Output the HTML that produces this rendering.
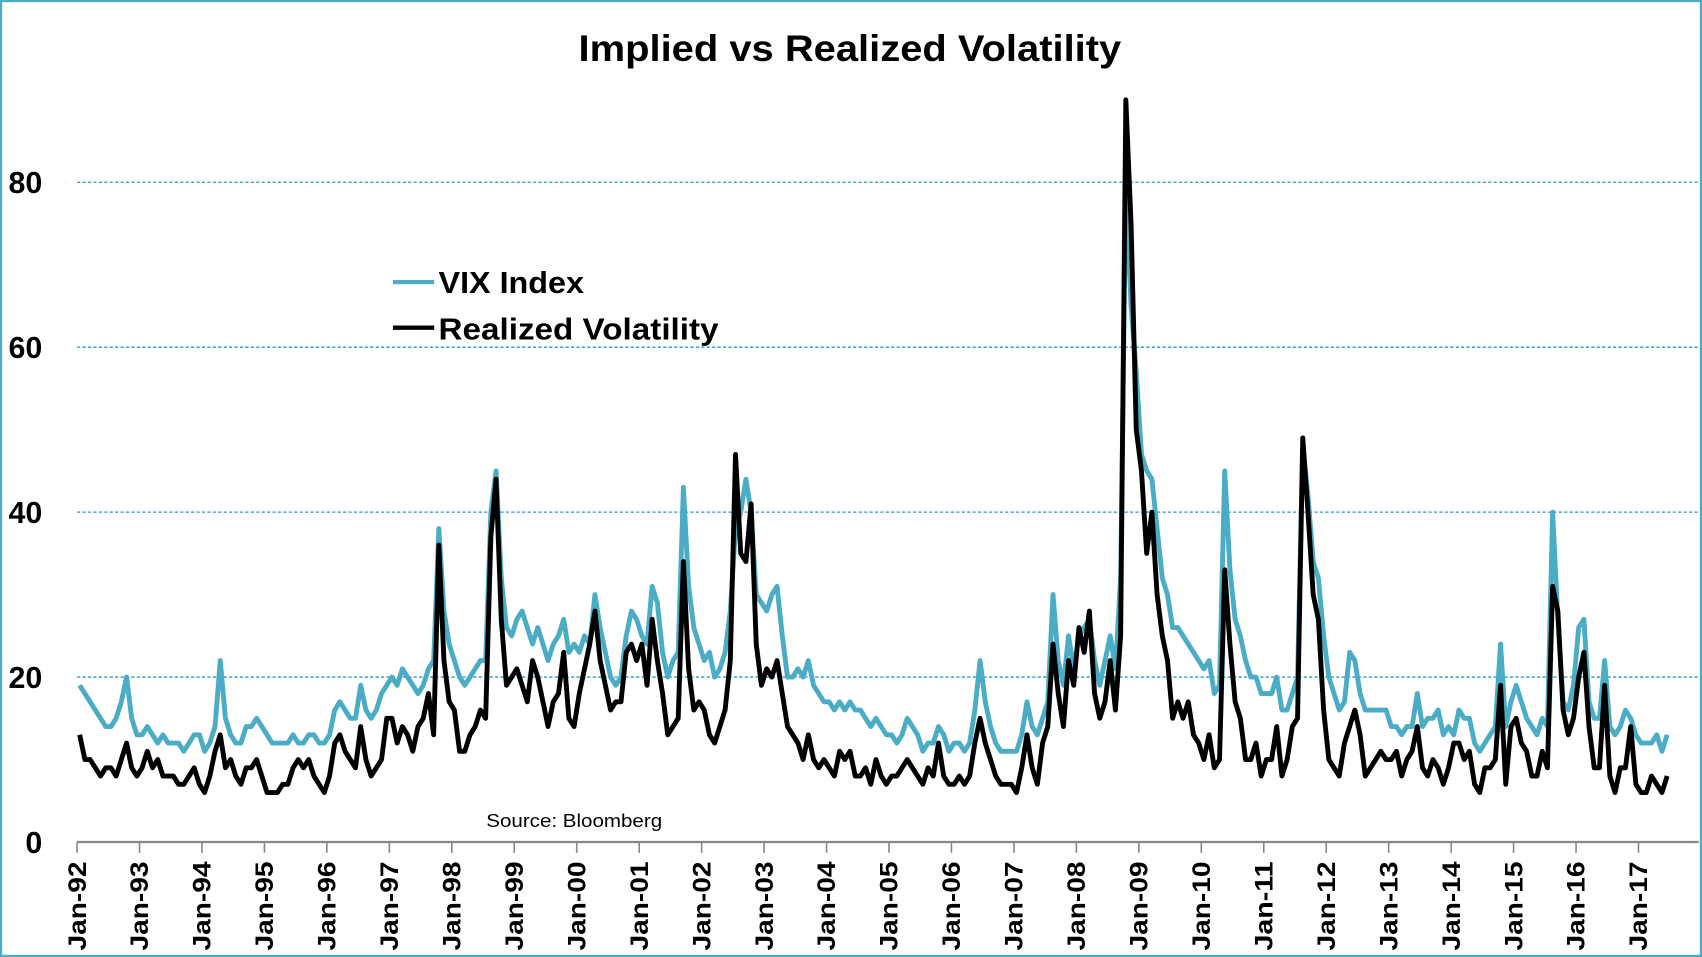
<!DOCTYPE html>
<html><head><meta charset="utf-8"><style>
html,body{margin:0;padding:0;background:#fff;}
svg{display:block;font-family:"Liberation Sans",sans-serif;}
</style></head><body>
<svg id="chart" width="1702" height="957" viewBox="0 0 1568 882" preserveAspectRatio="none" xmlns="http://www.w3.org/2000/svg">
<rect x="1" y="1" width="1566" height="880" fill="#fff" stroke="#4BACC6" stroke-width="2"/>
<text x="783" y="56" text-anchor="middle" font-size="34" font-weight="bold" textLength="500" lengthAdjust="spacingAndGlyphs">Implied vs Realized Volatility</text>
<g id="grid"></g>
<g id="yaxis"></g>
<g id="xaxis"></g>
<g id="series"></g>
<g>
<line x1="362" y1="260" x2="400" y2="260" stroke="#4BACC6" stroke-width="4"/>
<text x="404" y="270" font-size="28" font-weight="bold" textLength="134" lengthAdjust="spacingAndGlyphs">VIX Index</text>
<line x1="362" y1="302" x2="400" y2="302" stroke="#000" stroke-width="4"/>
<text x="404" y="313" font-size="28" font-weight="bold" textLength="258" lengthAdjust="spacingAndGlyphs">Realized Volatility</text>
</g>
<text x="448" y="762" font-size="17" textLength="162" lengthAdjust="spacingAndGlyphs">Source: Bloomberg</text>
</svg>
<script>
const yTicks=[0,20,40,60,80];
const xLabels=["Jan-92","Jan-93","Jan-94","Jan-95","Jan-96","Jan-97","Jan-98","Jan-99","Jan-00","Jan-01","Jan-02","Jan-03","Jan-04","Jan-05","Jan-06","Jan-07","Jan-08","Jan-09","Jan-10","Jan-11","Jan-12","Jan-13","Jan-14","Jan-15","Jan-16","Jan-17"];
const vixValues=[
19,18,17,16,15,14,14,15,17,20,15,13,
13,14,13,12,13,12,12,12,11,12,13,13,
11,12,14,22,15,13,12,12,14,14,15,14,
13,12,12,12,12,13,12,12,13,13,12,12,
13,16,17,16,15,15,19,16,15,16,18,19,
20,19,21,20,19,18,19,21,22,38,28,24,
22,20,19,20,21,22,22,40,45,32,26,25,
27,28,26,24,26,24,22,24,25,27,23,24,
23,25,24,30,26,23,20,19,20,25,28,27,
25,24,31,29,23,20,22,23,43,31,26,24,
22,23,20,21,23,28,38,40,44,40,30,29,
28,30,31,25,20,20,21,20,22,19,18,17,
17,16,17,16,17,16,16,15,14,15,14,13,
13,12,13,15,14,13,11,12,12,14,13,11,
12,12,11,12,16,22,17,14,12,11,11,11,
11,13,17,14,13,15,17,30,22,19,25,21,
25,26,27,22,19,22,25,21,32,80,65,57,
47,45,44,38,32,30,26,26,25,24,23,22,
21,22,18,19,45,33,27,25,22,20,20,18,
18,18,20,16,16,18,20,48,42,34,32,25,
20,18,16,17,23,22,18,16,16,16,16,16,
14,14,13,14,14,18,14,15,15,16,13,14,
13,16,15,15,12,11,12,13,14,24,14,17,
19,17,15,14,13,15,14,40,27,17,16,19,
26,27,17,15,15,22,14,13,14,16,15,13,
12,12,12,13,11,13];
const rvValues=[
13,10,10,9,8,9,9,8,10,12,9,8,
9,11,9,10,8,8,8,7,7,8,9,7,
6,8,11,13,9,10,8,7,9,9,10,8,
6,6,6,7,7,9,10,9,10,8,7,6,
8,12,13,11,10,9,14,10,8,9,10,15,
15,12,14,13,11,14,15,18,13,36,22,17,
16,11,11,13,14,16,15,37,44,27,19,20,
21,19,17,22,20,17,14,17,18,23,15,14,
18,21,24,28,22,19,16,17,17,23,24,22,
24,19,27,22,18,13,14,15,34,21,16,17,
16,13,12,14,16,22,47,35,34,41,24,19,
21,20,22,18,14,13,12,10,13,10,9,10,
9,8,11,10,11,8,8,9,7,10,8,7,
8,8,9,10,9,8,7,9,8,12,8,7,
7,8,7,8,12,15,12,10,8,7,7,7,
6,9,13,9,7,12,14,24,18,14,22,19,
26,23,28,18,15,17,22,16,25,90,75,50,
45,35,40,30,25,22,15,17,15,17,13,12,
10,13,9,10,33,24,17,15,10,10,12,8,
10,10,14,8,10,14,15,49,40,30,27,16,
10,9,8,12,14,16,13,8,9,10,11,10,
10,11,8,10,11,14,9,8,10,9,7,9,
12,12,10,11,7,6,9,9,10,19,7,14,
15,12,11,8,8,11,9,31,28,16,13,15,
20,23,14,9,9,19,8,6,9,9,14,7,
6,6,8,7,6,8];
const NS="http://www.w3.org/2000/svg";
const X0=71, PX_YEAR=57.54, Y0=776, PX_UNIT=7.6;
function xMonth(i){return X0+i/12*PX_YEAR;}
function yVal(v){return Y0-v*PX_UNIT;}
const grid=document.getElementById('grid'),yaxis=document.getElementById('yaxis'),xaxis=document.getElementById('xaxis'),series=document.getElementById('series');
yTicks.forEach(t=>{
  if(t>0){const l=document.createElementNS(NS,'line');
  
  
  l.setAttribute('x1',X0);l.setAttribute('x2',1565);l.setAttribute('y1',yVal(t));l.setAttribute('y2',yVal(t));
  l.setAttribute('stroke','#2f9ab8');l.setAttribute('stroke-width','1.2');l.setAttribute('stroke-dasharray','3,2');grid.appendChild(l);}
  const tx=document.createElementNS(NS,'text');
  
  
  tx.setAttribute('x',39);tx.setAttribute('y',yVal(t)+10);tx.setAttribute('text-anchor','end');
  tx.setAttribute('font-size','28');tx.setAttribute('font-weight','bold');tx.textContent=t;yaxis.appendChild(tx);
});
const ax=document.createElementNS(NS,'line');


ax.setAttribute('x1',X0);ax.setAttribute('x2',1565);ax.setAttribute('y1',Y0);ax.setAttribute('y2',Y0);ax.setAttribute('stroke','#888');ax.setAttribute('stroke-width','2');xaxis.appendChild(ax);
xLabels.forEach((lab,k)=>{
  const x=xMonth(k*12);
  const t=document.createElementNS(NS,'line');
  
  
  t.setAttribute('x1',x);t.setAttribute('x2',x);t.setAttribute('y1',Y0);t.setAttribute('y2',Y0+10);t.setAttribute('stroke','#888');t.setAttribute('stroke-width','1.5');xaxis.appendChild(t);
  const tx=document.createElementNS(NS,'text');
  
  
  tx.setAttribute('transform','translate('+(x+8)+',794) rotate(-90)');tx.setAttribute('text-anchor','end');
  tx.setAttribute('font-size','23');tx.setAttribute('font-weight','bold');tx.setAttribute('textLength','82');tx.setAttribute('lengthAdjust','spacingAndGlyphs');tx.textContent=lab;xaxis.appendChild(tx);
});
function drawLine(vals,color,name){
  const p=document.createElementNS(NS,'polyline');
  
  
  p.setAttribute('points',vals.map((v,i)=>xMonth(i+0.5).toFixed(1)+','+yVal(v).toFixed(1)).join(' '));
  p.setAttribute('fill','none');p.setAttribute('stroke',color);p.setAttribute('stroke-width','4.5');p.setAttribute('stroke-linejoin','round');
  series.appendChild(p);
}
drawLine(vixValues,'#4BACC6','vix-line');
drawLine(rvValues,'#000','realized-vol-line');
</script>
</body></html>
